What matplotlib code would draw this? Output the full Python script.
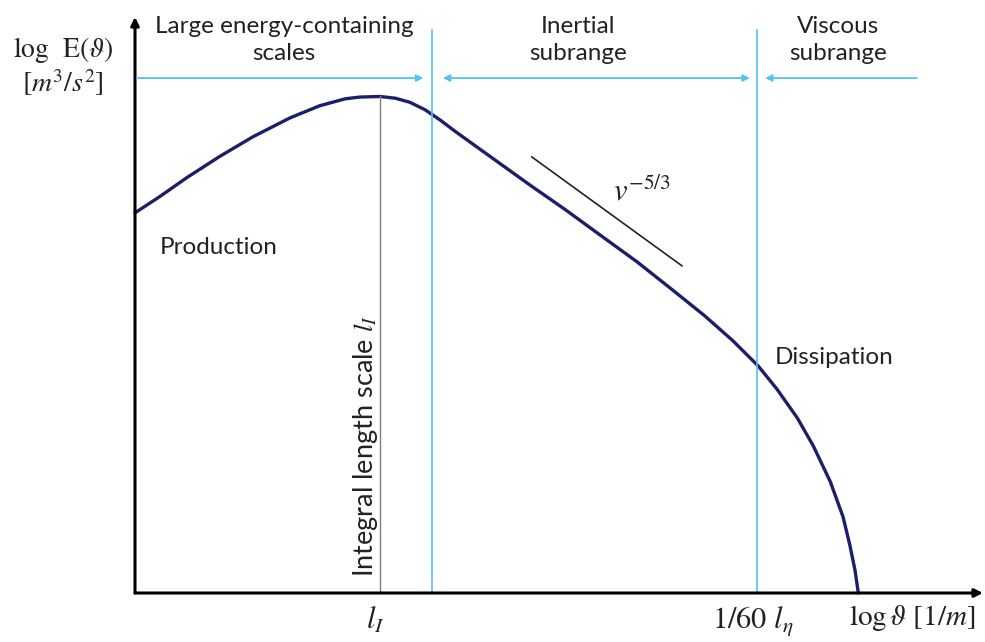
import numpy as np
import matplotlib.pyplot as plt

plt.rcParams['mathtext.fontset'] = 'stix'

# Espectro de energia (esquema en escala log-log, unidades arbitrarias)
log_k = [0.00, 0.30, 0.61, 1.00, 1.39, 1.83, 2.18, 2.48, 2.65, 2.89, 3.07, 3.24,
         3.42, 3.60, 3.77, 3.95, 4.30, 4.66, 5.07, 5.48, 5.92, 6.34, 6.72, 7.05,
         7.35, 7.57, 7.81, 8.00, 8.20, 8.35, 8.43, 8.49, 8.53]
log_E = [6.60, 6.89, 7.21, 7.58, 7.92, 8.25, 8.46, 8.58, 8.61, 8.62, 8.59, 8.52,
         8.39, 8.21, 8.02, 7.83, 7.46, 7.08, 6.66, 6.22, 5.75, 5.26, 4.81, 4.38,
         3.94, 3.54, 3.04, 2.55, 1.93, 1.32, 0.83, 0.40, 0.00]

# Limites de los subrangos
limites = [3.50, 7.33]
# Recta de pendiente -5/3
recta_x = [4.68, 6.45]
recta_y = [7.57, 5.68]

azul = '#1b1f6b'
celeste = '#52c3ee'
texto = '#222222'
fuente = 'Lato'

fig = plt.figure(figsize=(9.85, 6.42), dpi=100)
ax = fig.add_axes([135/985, 49/642, 848/985, 576/642])
ax.set_xlim(0, 10)
ax.set_ylim(0, 10)
ax.axis('off')

# Ejes con flecha
for punta in [(0, 1), (1, 0)]:
    ax.annotate('', xy=punta, xytext=(0, 0), xycoords='axes fraction',
                arrowprops=dict(arrowstyle='-|>', color='black', lw=2.2,
                                mutation_scale=12, shrinkA=0, shrinkB=0))

# Curva del espectro
ax.plot(log_k, log_E, color=azul, lw=2.4, solid_joinstyle='round',
        solid_capstyle='round', clip_on=False)

# Escala integral en el maximo
ipico = int(np.argmax(log_E))
xpico = log_k[ipico]
ax.plot([xpico, xpico], [0, log_E[ipico]], color='#7f7f7f', lw=1.0)
ax.text(xpico - 0.17, 2.55, 'Integral length scale $l_I$', rotation=90,
        ha='center', va='center', fontsize=19.5, family=fuente, color=texto)

# Lineas de limite de subrango
for xl in limites:
    ax.plot([xl, xl], [0, 9.77], color=celeste, lw=1.2, clip_on=False)

# Flechas de los subrangos
flecha = dict(arrowstyle='-|>', color=celeste, lw=1.3, mutation_scale=10,
              shrinkA=0, shrinkB=0)
ax.annotate('', xy=(3.40, 8.94), xytext=(0.02, 8.94), arrowprops=flecha)
ax.annotate('', xy=(7.25, 8.94), xytext=(3.63, 8.94),
            arrowprops=dict(flecha, arrowstyle='<|-|>'))
ax.annotate('', xy=(7.43, 8.94), xytext=(9.22, 8.94), arrowprops=flecha)

titulos = ['Large energy-containing\nscales', 'Inertial\nsubrange',
           'Viscous\nsubrange']
for xt, t in zip([1.76, 5.22, 8.29], titulos):
    ax.text(xt, 9.60, t, ha='center', va='center', fontsize=17.5,
            family=fuente, linespacing=1.4, color=texto, clip_on=False)

# Pendiente -5/3
ax.plot(recta_x, recta_y, color='#222222', lw=1.2)
ax.text(5.98, 6.98, r'$v^{-5/3}$', ha='center', va='center', fontsize=22,
        color=texto)

ax.text(0.29, 5.99, 'Production', ha='left', va='center', fontsize=17.5,
        family=fuente, color=texto)
ax.text(7.55, 4.08, 'Dissipation', ha='left', va='center', fontsize=17.5,
        family=fuente, color=texto)

# Etiquetas de los ejes
ax.text(-0.85, 9.43, r'log  E($\vartheta$)', ha='center', va='center',
        fontsize=20, family='STIXGeneral', color=texto, clip_on=False)
ax.text(-0.85, 8.85, r'$[m^3/s^2]$', ha='center', va='center',
        fontsize=20, color=texto, clip_on=False)
ax.text(xpico - 0.06, -0.47, r'$l_I$', ha='center', va='center', fontsize=22,
        color=texto, clip_on=False)
ax.text(7.28, -0.50, r'$1/60\ l_\eta$', ha='center', va='center', fontsize=22,
        color=texto, clip_on=False)
ax.text(9.17, -0.43, r'$\log\vartheta\ [1/m]$', ha='center', va='center',
        fontsize=21, color=texto, clip_on=False)

fig.savefig('out.png', dpi=100, facecolor='white')
